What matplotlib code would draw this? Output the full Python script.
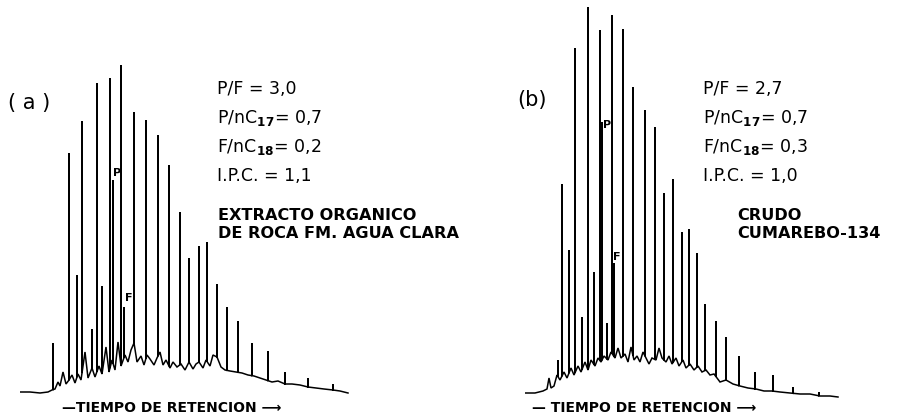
import numpy as np
import matplotlib
matplotlib.use("Agg")
import matplotlib.pyplot as plt

# ---- panel (a): extracto organico de roca ----
# main n-alkane peaks: retention (arb. units) and peak top response
a_peak_t = [33, 49, 57, 62, 72, 77, 82, 90, 93, 101, 104, 114, 126, 138, 149, 160,
            169, 179, 187, 197, 207, 218, 232, 248, 265, 288, 313]
a_peak_h = [57, 247, 125, 279, 71, 317, 114, 322, 220, 335, 93, 288, 280, 265, 235, 188,
            142, 154, 158, 116, 93, 79, 57, 49, 28, 22, 16]
# baseline trace (unresolved hump + noise)
a_base_t = [0, 10, 20, 28, 32, 35, 38, 40, 43, 46, 49, 52, 55, 58, 61, 65, 68, 72, 75, 79,
            82, 86, 89, 92, 95, 98, 101, 105, 108, 111, 114, 117, 121, 124, 127, 130, 134,
            137, 140, 143, 146, 150, 153, 157, 161, 165, 169, 173, 176, 179, 183, 186, 190,
            193, 197, 201, 205, 210, 216, 222, 228, 234, 240, 246, 252, 258, 265, 272, 280,
            288, 296, 304, 313, 320, 328]
a_base_h = [8, 8, 7, 8, 10, 11, 18, 14, 28, 16, 20, 25, 17, 26, 20, 48, 22, 32, 23, 34,
            26, 53, 28, 40, 30, 58, 34, 45, 38, 50, 57, 38, 44, 35, 45, 41, 35, 42, 48, 35,
            40, 32, 38, 33, 36, 30, 38, 31, 36, 38, 32, 40, 34, 45, 43, 33, 30, 29, 28, 27,
            25, 24, 22, 20, 18, 19, 16, 16, 15, 13, 12, 11, 10, 9, 7]

# ---- panel (b): crudo cumarebo-134 ----
b_peak_t = [33, 37, 44, 50, 57, 63, 69, 75, 77, 82, 87, 89, 98, 108, 120, 130, 139,
            148, 157, 164, 172, 180, 191, 201, 214, 230, 248, 268, 294]
b_peak_h = [40, 216, 150, 352, 83, 393, 128, 370, 278, 77, 385, 137, 371, 313, 290, 273,
            207, 221, 168, 171, 147, 96, 79, 63, 44, 28, 25, 13, 8]
b_base_t = [0, 10, 18, 22, 24, 26, 29, 32, 35, 39, 42, 46, 49, 53, 56, 60, 63, 66, 70, 73,
            76, 79, 83, 86, 90, 93, 96, 100, 103, 106, 109, 112, 115, 118, 121, 124, 127,
            131, 134, 137, 141, 144, 147, 151, 154, 158, 161, 165, 169, 173, 177, 181, 185,
            189, 195, 201, 208, 215, 223, 231, 239, 247, 255, 265, 275, 285, 295, 305, 313]
b_base_h = [7, 7, 9, 11, 22, 12, 14, 25, 20, 28, 22, 32, 25, 34, 28, 38, 30, 40, 34, 42,
            38, 44, 40, 48, 42, 52, 42, 46, 38, 53, 40, 44, 38, 48, 42, 36, 42, 40, 52, 42,
            38, 44, 36, 42, 34, 40, 32, 36, 30, 34, 28, 30, 25, 26, 18, 20, 16, 14, 12, 11,
            9, 9, 8, 7, 6, 6, 4, 4, 3]


def trace(base_t, base_h, peak_t, peak_h):
    # build the detector trace: baseline, with each resolved peak as a spike
    xs, ys = list(base_t), list(base_h)
    foot = np.interp(peak_t, base_t, base_h)
    for t, h, f in zip(peak_t, peak_h, foot):
        xs += [t - 0.01, t, t + 0.01]
        ys += [f, h, f]
    order = np.argsort(xs, kind="stable")
    return np.array(xs)[order], np.array(ys)[order]


W, H = 898, 418
fig = plt.figure(figsize=(W / 100, H / 100), dpi=100)
fig.patch.set_facecolor("white")


def px_text(x, y, s, **kw):
    fig.text(x / W, 1 - y / H, s, va="center", ha="left", **kw)


ax_a = fig.add_axes([20 / W, 18 / H, 400 / W, 400 / H])
ax_b = fig.add_axes([525 / W, 18 / H, 373 / W, 400 / H])

for ax, bt, bh, pt, ph, xmax in [(ax_a, a_base_t, a_base_h, a_peak_t, a_peak_h, 400),
                                 (ax_b, b_base_t, b_base_h, b_peak_t, b_peak_h, 373)]:
    x, y = trace(bt, bh, pt, ph)
    ax.plot(x, y, color="black", lw=1.1, solid_joinstyle="miter")
    ax.set_xlim(0, xmax)
    ax.set_ylim(0, 400)
    ax.axis("off")

ratio_kw = dict(fontsize=12.5, color="black", family="DejaVu Sans")
block_kw = dict(fontsize=11.6, color="black", family="DejaVu Sans", fontweight="bold")
axis_kw = dict(fontsize=10, color="black", family="DejaVu Sans", fontweight="bold")

# panel (a) texts
px_text(8, 103, "( a )", fontsize=15, color="black")
px_text(217, 89, "P/F = 3,0", **ratio_kw)
px_text(217, 118, r"P/nC$_{\mathbf{17}}$= 0,7", **ratio_kw)
px_text(217, 147, r"F/nC$_{\mathbf{18}}$= 0,2", **ratio_kw)
px_text(217, 176, "I.P.C. = 1,1", **ratio_kw)
px_text(218, 216, "EXTRACTO ORGANICO", **block_kw)
px_text(218, 233, "DE ROCA FM. AGUA CLARA", **block_kw)
px_text(113, 173, "P", fontsize=8, fontweight="bold")
px_text(125, 298, "F", fontsize=8, fontweight="bold")
px_text(62, 408, "\u2014TIEMPO DE RETENCION \u27F6", **axis_kw)

# panel (b) texts
px_text(517, 100, "(b)", fontsize=15, color="black")
px_text(703, 89, "P/F = 2,7", **ratio_kw)
px_text(703, 118, r"P/nC$_{\mathbf{17}}$= 0,7", **ratio_kw)
px_text(703, 147, r"F/nC$_{\mathbf{18}}$= 0,3", **ratio_kw)
px_text(703, 176, "I.P.C. = 1,0", **ratio_kw)
px_text(737, 216, "CRUDO", **block_kw)
px_text(737, 233, "CUMAREBO-134", **block_kw)
px_text(603, 125, "P", fontsize=8, fontweight="bold")
px_text(613, 257, "F", fontsize=8, fontweight="bold")
px_text(532, 408, "\u2014 TIEMPO DE RETENCION \u27F6", **axis_kw)

fig.savefig("out.png", dpi=100, facecolor="white")
